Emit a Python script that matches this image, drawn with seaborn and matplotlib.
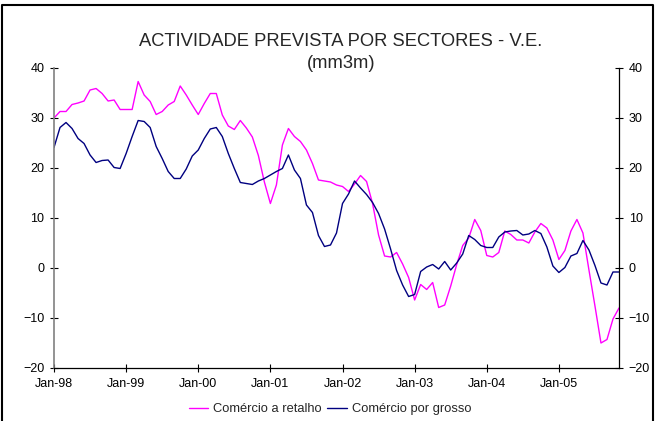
import matplotlib
matplotlib.use("Agg")
import matplotlib.pyplot as plt
import seaborn as sns
import numpy as np
import pandas as pd

# Monthly series, Jan-98 .. Nov-05 (mm3m)
months = pd.date_range("1998-01-01", "2005-11-01", freq="MS")

retalho = [30.0, 31.3, 31.3, 32.7, 33.0, 33.4, 35.6, 35.9, 34.9, 33.4, 33.6, 31.7,
           31.7, 31.7, 37.3, 34.6, 33.3, 30.7, 31.3, 32.6, 33.3, 36.4, 34.6, 32.6,
           30.7, 32.9, 34.9, 34.9, 30.6, 28.4, 27.7, 29.5, 28.0, 26.2, 22.5, 17.2,
           12.9, 16.6, 24.6, 27.9, 26.3, 25.3, 23.6, 20.9, 17.6, 17.4, 17.2, 16.6,
           16.3, 15.3, 16.8, 18.5, 17.3, 12.9, 6.6, 2.4, 2.2, 3.1, 0.8, -1.9,
           -6.4, -3.3, -4.3, -2.9, -7.9, -7.4, -3.6, 0.7, 4.5, 6.0, 9.7, 7.5,
           2.5, 2.2, 3.1, 7.4, 6.7, 5.6, 5.6, 5.0, 7.2, 8.9, 8.0, 5.6,
           1.7, 3.5, 7.4, 9.7, 7.0, -0.4, -7.6, -15.0, -14.3, -10.2, -8.0]

grosso = [24.1, 28.1, 29.1, 27.9, 25.9, 24.9, 22.6, 21.1, 21.5, 21.6, 20.1, 19.9,
          22.9, 26.3, 29.5, 29.3, 28.1, 24.3, 21.9, 19.3, 17.9, 17.9, 19.8, 22.4,
          23.6, 25.9, 27.8, 28.1, 26.3, 22.9, 19.9, 17.1, 16.9, 16.7, 17.4, 17.9,
          18.6, 19.3, 19.9, 22.6, 19.6, 17.9, 12.6, 11.1, 6.5, 4.3, 4.6, 7.0,
          12.9, 14.8, 17.4, 16.0, 14.7, 13.1, 10.9, 7.8, 3.8, -0.5, -3.4, -5.7,
          -5.3, -0.7, 0.2, 0.7, -0.2, 1.3, -0.4, 1.0, 2.8, 6.5, 5.7, 4.5,
          4.1, 4.1, 6.2, 7.2, 7.4, 7.5, 6.6, 6.8, 7.5, 6.9, 4.2, 0.4,
          -0.9, 0.1, 2.4, 2.9, 5.5, 3.6, 0.5, -3.0, -3.4, -0.8, -0.8]

series_names = ["Comércio a retalho", "Comércio por grosso"]
colors = ["#FF00FF", "#000080"]

df = pd.DataFrame({
    "mes": np.concatenate([np.arange(len(months))] * 2),
    "valor": retalho + grosso,
    "serie": [series_names[0]] * len(retalho) + [series_names[1]] * len(grosso),
})

sns.set_style("white")
plt.rcParams["font.family"] = ["Liberation Sans", "DejaVu Sans"]

fig = plt.figure(figsize=(6.56, 4.21), dpi=100)
ax = fig.add_axes([54 / 656, 1 - 368 / 421, (619 - 54) / 656, 300 / 421])

sns.lineplot(data=df, x="mes", y="valor", hue="serie", palette=colors,
             linewidth=1.0, ax=ax, legend=False)

ax.set_xlim(0, len(months) - 1)
ax.set_ylim(-20, 40)
tick_pos = np.arange(0, len(months), 12)
ax.set_xticks(tick_pos)
ax.set_xticklabels([months[i].strftime("%b-%y") for i in tick_pos], fontsize=9)
ax.set_yticks(np.arange(-20, 41, 10))
ax.tick_params(axis="both", direction="inout", length=6, width=0.8,
               colors="black", labelsize=9, pad=4)
ax.tick_params(axis="y", left=True, right=True, labelleft=True, labelright=True)
ax.tick_params(axis="x", bottom=True)
ax.set_xlabel("")
ax.set_ylabel("")

ax.spines["top"].set_visible(False)
ax.spines["left"].set_color("#808080")
ax.spines["left"].set_linewidth(1.2)
ax.spines["right"].set_color("black")
ax.spines["bottom"].set_color("black")
for s in ["right", "bottom"]:
    ax.spines[s].set_linewidth(0.9)

fig.text(341 / 656, 1 - 41 / 421, "ACTIVIDADE PREVISTA POR SECTORES - V.E.",
         ha="center", va="center", fontsize=13.2)
fig.text(341 / 656, 1 - 63 / 421, "(mm3m)", ha="center", va="center", fontsize=13.2)

handles = [plt.Line2D([], [], color=c, lw=1.0) for c in colors]
fig.legend(handles, series_names, loc="center", bbox_to_anchor=(330 / 656, 1 - 409 / 421),
           ncol=2, frameon=False, fontsize=9.3, handlelength=1.5, handletextpad=0.4,
           columnspacing=0.4)

# chart area border (bottom edge cropped in the original)
border = plt.Line2D([2 / 656, 2 / 656, 653 / 656, 653 / 656],
                    [-0.1, 1 - 5 / 421, 1 - 5 / 421, -0.1],
                    transform=fig.transFigure, color="black", lw=1.5)
fig.add_artist(border)

fig.savefig("out.png", dpi=100)
